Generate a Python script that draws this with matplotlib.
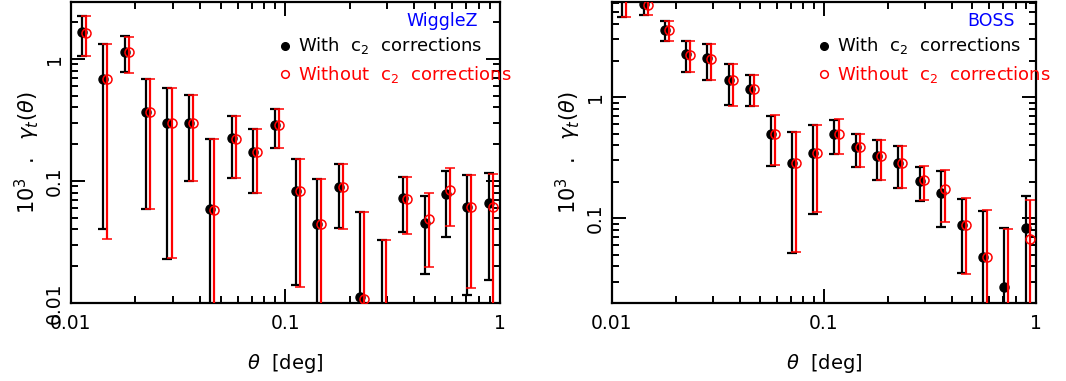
import matplotlib
matplotlib.use("Agg")
import matplotlib.pyplot as plt
import numpy as np

plt.rcParams['font.family'] = ['DejaVu Sans']
plt.rcParams['mathtext.fontset'] = 'dejavusans'

# Data: bin centres (deg)
theta = [0.0112, 0.0141, 0.0178, 0.0224, 0.0282, 0.0355, 0.0447, 0.0562, 0.0708, 0.0891,
         0.112, 0.141, 0.178, 0.224, 0.282, 0.355, 0.447, 0.562, 0.708, 0.891]

# WiggleZ: value, lower end, upper end of error bar
wz_with = [1.66, 0.68, 1.14, 0.364, 0.30, 0.30, 0.0586, 0.223, 0.174, 0.287,
           0.0828, 0.0443, 0.0887, 0.0111, 0.004, 0.0722, 0.045, 0.0778, 0.061, 0.0657]
wz_with_lo = [1.06, 0.040, 0.78, 0.0586, 0.0229, 0.10, 0.001, 0.105, 0.080, 0.187,
              0.0141, 0.001, 0.0408, 0.001, 0.001, 0.038, 0.0171, 0.0348, 0.0116, 0.0155]
wz_with_hi = [2.25, 1.33, 1.53, 0.678, 0.572, 0.505, 0.219, 0.34, 0.268, 0.39,
              0.151, 0.104, 0.138, 0.0558, 0.033, 0.107, 0.0745, 0.121, 0.112, 0.116]
wz_wo = [1.64, 0.68, 1.14, 0.364, 0.30, 0.30, 0.058, 0.222, 0.173, 0.287,
         0.082, 0.0443, 0.0885, 0.0107, 0.004, 0.071, 0.0489, 0.0844, 0.0615, 0.0615]
wz_wo_lo = [1.06, 0.0334, 0.77, 0.0586, 0.0233, 0.10, 0.001, 0.105, 0.079, 0.186,
            0.0135, 0.001, 0.040, 0.001, 0.001, 0.0369, 0.0197, 0.0423, 0.0133, 0.001]
wz_wo_hi = [2.25, 1.33, 1.52, 0.678, 0.572, 0.505, 0.219, 0.34, 0.268, 0.39,
            0.150, 0.104, 0.137, 0.0558, 0.0328, 0.107, 0.0793, 0.128, 0.112, 0.114]

# BOSS
bo_with = [7.5, 5.89, 3.56, 2.25, 2.09, 1.37, 1.17, 0.491, 0.284, 0.348,
           0.50, 0.387, 0.326, 0.288, 0.201, 0.163, 0.0887, 0.0479, 0.0268, 0.0828]
bo_with_lo = [4.6, 4.73, 2.90, 1.61, 1.39, 0.865, 0.838, 0.270, 0.0517, 0.1086,
              0.337, 0.267, 0.207, 0.177, 0.140, 0.0844, 0.0354, 0.005, 0.005, 0.005]
bo_with_hi = [11.0, 8.0, 4.25, 2.90, 2.74, 1.88, 1.51, 0.703, 0.517, 0.586,
              0.652, 0.497, 0.441, 0.394, 0.267, 0.246, 0.144, 0.114, 0.0828, 0.153]
bo_wo = [7.5, 5.78, 3.56, 2.22, 2.06, 1.37, 1.17, 0.491, 0.284, 0.348,
         0.50, 0.387, 0.326, 0.288, 0.206, 0.174, 0.0887, 0.0479, 0.015, 0.0677]
bo_wo_lo = [4.6, 4.73, 2.90, 1.61, 1.39, 0.85, 0.838, 0.273, 0.053, 0.112,
            0.337, 0.267, 0.207, 0.179, 0.142, 0.0927, 0.0344, 0.005, 0.005, 0.005]
bo_wo_hi = [11.0, 8.0, 4.25, 2.90, 2.74, 1.88, 1.51, 0.71, 0.517, 0.586,
            0.66, 0.50, 0.441, 0.394, 0.272, 0.249, 0.146, 0.118, 0.082, 0.142]

panels = [
    ("WiggleZ", (0.01, 2.93), wz_with, wz_with_lo, wz_with_hi, wz_wo, wz_wo_lo, wz_wo_hi),
    ("BOSS", (0.02, 6.1), bo_with, bo_with_lo, bo_with_hi, bo_wo, bo_wo_lo, bo_wo_hi),
]

fig = plt.figure(figsize=(10.66, 3.81), dpi=100)
axes = [fig.add_axes([0.0666, 0.205, 0.402, 0.79]),
        fig.add_axes([0.574, 0.205, 0.398, 0.79])]

th = np.array(theta)
for ax, (name, ylim, v1, lo1, hi1, v2, lo2, hi2) in zip(axes, panels):
    v1, lo1, hi1 = map(np.array, (v1, lo1, hi1))
    v2, lo2, hi2 = map(np.array, (v2, lo2, hi2))
    ax.errorbar(th, v1, yerr=[v1 - lo1, hi1 - v1], fmt='o', color='black',
                ms=6.5, elinewidth=1.6, capsize=3.5, capthick=1.6, zorder=2)
    ax.errorbar(th * 1.045, v2, yerr=[v2 - lo2, hi2 - v2], fmt='o', color='red',
                mfc='none', mec='red', ms=6.5, mew=1.1, elinewidth=1.6, capsize=3.5,
                capthick=1.6, zorder=3)
    ax.set_xscale('log')
    ax.set_yscale('log')
    ax.set_xlim(0.01, 1)
    ax.set_ylim(*ylim)
    ax.set_xticks([0.01, 0.1, 1])
    ax.set_xticklabels(['0.01', '0.1', '1'])
    yt = [t for t in [0.01, 0.1, 1] if ylim[0] <= t <= ylim[1]]
    ax.set_yticks(yt)
    ax.set_yticklabels([f'{t:g}' for t in yt], rotation=90, va='center')
    ax.tick_params(which='both', direction='in', top=True, right=True, width=1.4,
                   labelsize=13.5)
    ax.tick_params(which='major', length=10, pad=8)
    ax.tick_params(axis='y', which='major', pad=5)
    ax.tick_params(which='minor', length=5)
    for s in ax.spines.values():
        s.set_linewidth(1.6)
    ax.set_xlabel(r'$\theta$  [deg]', fontsize=14, labelpad=14)
    ax.set_ylabel(r'$10^3\ \ .\ \ \gamma_t(\theta)$', fontsize=15, labelpad=2)

    ax.text(0.95, 0.935, name, color='blue', fontsize=12.5, ha='right', va='center',
            transform=ax.transAxes)
    ax.plot([0.5], [0.855], 'o', color='black', ms=5.5, transform=ax.transAxes, clip_on=False)
    ax.text(0.53, 0.855, r'With  c$_2$  corrections', fontsize=13, va='center',
            transform=ax.transAxes)
    ax.plot([0.5], [0.76], 'o', mfc='none', mec='red', ms=5.5, mew=1.1,
            transform=ax.transAxes, clip_on=False)
    ax.text(0.53, 0.76, r'Without  c$_2$  corrections', color='red', fontsize=13,
            va='center', transform=ax.transAxes)

fig.savefig('out.png', dpi=100)
